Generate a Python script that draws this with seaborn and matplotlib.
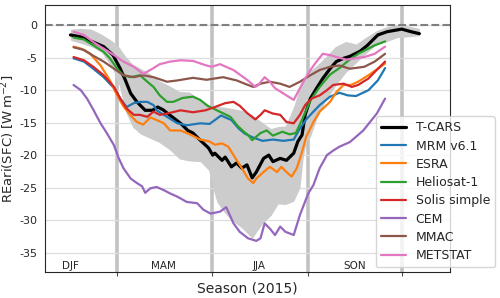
import numpy as np
import pandas as pd
import matplotlib
matplotlib.use('Agg')
import matplotlib.pyplot as plt
import seaborn as sns

# day of year 2015, REari(SFC) in W m-2 (30-day running means)
tcars_doy = [15, 25, 37, 47, 56, 63, 68, 73, 79, 87, 94, 99, 104, 108, 121, 128, 133, 138, 148, 152,
             154, 161, 164, 170, 175, 180, 185, 190, 194, 201, 206, 210, 217, 223, 230, 234, 238, 241,
             246, 252, 258, 265, 271, 278, 284, 294, 301, 311, 320, 334, 343, 351]
tcars = [-1.5, -1.8, -2.6, -3.3, -4.6, -6.7, -8.5, -10.5, -11.8, -13.1, -13.1, -12.6, -13.0, -13.5,
         -15.1, -16.2, -16.6, -17.4, -18.9, -20.0, -19.7, -20.8, -20.3, -21.8, -21.2, -22.0, -21.5,
         -23.5, -22.6, -20.5, -20.0, -21.0, -20.5, -20.8, -19.7, -17.9, -16.9, -13.8, -11.3, -9.7,
         -8.2, -6.7, -5.6, -5.1, -4.8, -4.0, -3.1, -1.5, -1.0, -0.6, -1.0, -1.3]

band_doy = [15, 25, 35, 45, 55, 62, 68, 75, 82, 90, 100, 110, 120, 130, 140, 148, 152, 156, 163, 170,
            180, 190, 200, 208, 215, 222, 230, 236, 239, 242, 246, 252, 260, 270, 280, 290, 300, 310,
            320, 330, 340, 351]
band_hi = [-0.6, -0.5, -0.6, -1.4, -2.4, -3.4, -4.8, -6.0, -6.6, -7.3, -8.5, -9.3, -10.2, -10.3, -11.6,
           -12.2, -12.3, -12.5, -12.6, -12.8, -13.1, -13.8, -15.0, -15.9, -15.6, -15.5, -12.5, -9.5,
           -8.6, -8.0, -7.0, -6.2, -5.0, -3.3, -2.5, -2.9, -1.8, -0.8, -0.2, 0.1, -0.1, -0.5]
band_lo = [-2.3, -2.8, -3.3, -4.2, -6.5, -9.3, -13.3, -15.7, -16.7, -17.3, -18.0, -19.1, -20.6, -20.9,
           -21.0, -22.3, -25.0, -27.2, -28.8, -30.0, -31.2, -32.8, -30.5, -29.3, -27.5, -27.6, -27.1,
           -25.0, -20.5, -18.0, -17.2, -14.5, -11.8, -9.4, -7.3, -5.8, -4.3, -2.9, -2.5, -1.9, -1.8, -1.6]

mrm_doy = [18, 28, 37, 47, 57, 63, 69, 76, 82, 89, 95, 98, 108, 118, 127, 140, 149, 160, 170, 177,
           183, 191, 200, 210, 220, 230, 236, 242, 249, 255, 265, 274, 282, 290, 302, 311, 318]
mrm = [-5.1, -5.6, -6.7, -8.0, -9.7, -11.3, -12.6, -12.0, -11.8, -11.8, -12.3, -13.1, -14.1, -15.1,
       -15.4, -15.1, -15.2, -13.9, -14.6, -15.9, -16.7, -17.3, -17.8, -17.6, -17.8, -17.6, -15.9,
       -14.5, -13.3, -12.3, -11.0, -10.4, -10.8, -10.9, -10.0, -8.5, -6.6]

esra_doy = [18, 25, 34, 44, 53, 60, 66, 73, 79, 85, 92, 98, 105, 111, 121, 130, 140, 149, 154, 161,
            167, 174, 180, 186, 191, 194, 201, 207, 214, 218, 223, 228, 233, 238, 242, 249, 255, 265,
            271, 278, 285, 292, 302, 311, 318]
esra = [-3.3, -3.6, -4.4, -6.2, -8.5, -10.8, -12.5, -13.9, -14.9, -15.3, -14.2, -14.6, -15.1, -16.2,
        -16.2, -16.8, -17.6, -17.9, -18.4, -18.2, -18.7, -20.5, -22.0, -23.6, -24.3, -23.6, -22.6,
        -21.8, -22.6, -21.8, -22.6, -23.3, -22.0, -19.5, -17.2, -14.9, -13.3, -11.8, -10.3, -9.2,
        -9.2, -8.7, -7.7, -6.7, -5.9]

helio_doy = [18, 28, 37, 47, 53, 60, 66, 73, 82, 89, 95, 101, 108, 114, 123, 133, 140, 147, 156, 169,
             176, 182, 186, 190, 198, 204, 210, 219, 226, 232, 239, 246, 255, 265, 274, 283, 293, 302,
             308, 318]
helio = [-1.9, -2.2, -3.1, -4.1, -5.1, -6.7, -7.7, -8.0, -7.7, -8.7, -9.5, -10.8, -11.8, -11.8, -11.2,
         -11.0, -11.5, -12.4, -13.1, -14.1, -15.5, -16.4, -16.9, -17.7, -16.6, -16.2, -17.0, -16.4,
         -16.8, -16.6, -14.2, -11.6, -9.5, -7.6, -6.6, -5.4, -4.3, -3.6, -3.1, -2.5]

solis_doy = [18, 28, 37, 47, 57, 63, 69, 76, 82, 89, 95, 101, 108, 121, 133, 145, 154, 164, 172, 178,
             185, 193, 198, 202, 210, 217, 223, 230, 236, 241, 247, 255, 262, 268, 278, 286, 292, 302,
             308, 318]
solis = [-4.9, -5.4, -6.4, -7.7, -9.5, -11.3, -12.8, -13.8, -13.8, -14.1, -13.3, -13.8, -13.6, -13.1,
         -13.4, -13.1, -12.6, -12.0, -11.8, -12.4, -13.5, -14.5, -13.8, -13.1, -13.6, -13.8, -14.9,
         -15.1, -13.8, -12.3, -11.3, -10.8, -10.0, -9.2, -9.0, -9.5, -9.2, -8.2, -7.2, -5.6]

cem_doy = [18, 25, 31, 37, 44, 50, 57, 61, 66, 73, 79, 84, 87, 92, 98, 105, 111, 118, 127, 137, 143,
           150, 159, 165, 172, 178, 186, 194, 198, 202, 207, 212, 217, 222, 230, 236, 244, 249, 255,
           262, 268, 274, 284, 297, 310, 318]
cem = [-9.2, -10.0, -11.3, -13.0, -15.1, -16.6, -18.5, -20.3, -22.0, -23.6, -24.3, -24.8, -25.8, -25.1,
       -24.9, -25.4, -25.9, -26.4, -27.2, -27.4, -28.4, -29.0, -28.7, -28.0, -30.5, -31.8, -32.8,
       -33.2, -32.8, -30.5, -31.3, -32.3, -31.0, -31.8, -32.3, -29.2, -25.9, -24.6, -22.0, -20.0,
       -19.3, -18.7, -18.0, -16.2, -13.6, -11.3]

mmac_doy = [18, 28, 37, 47, 57, 66, 76, 85, 95, 108, 118, 133, 146, 162, 175, 186, 191, 198, 207, 217,
            226, 236, 246, 255, 265, 274, 284, 298, 308, 318]
mmac = [-3.4, -3.8, -4.7, -5.6, -6.7, -7.7, -8.0, -7.7, -8.0, -8.7, -8.5, -8.1, -8.4, -8.0, -8.5,
        -9.2, -9.5, -9.0, -8.7, -9.0, -9.5, -8.7, -7.7, -6.9, -6.4, -6.2, -6.7, -6.4, -5.6, -4.4]

metstat_doy = [18, 28, 37, 47, 57, 66, 76, 85, 94, 101, 111, 121, 133, 146, 151, 159, 172, 185, 193,
               196, 202, 207, 212, 218, 223, 230, 234, 241, 247, 252, 258, 265, 271, 281, 289, 298,
               308, 318]
metstat = [-1.0, -1.5, -2.6, -3.6, -4.6, -5.6, -6.4, -7.5, -6.7, -6.0, -5.6, -5.4, -5.5, -6.2, -6.4,
           -6.0, -6.9, -8.4, -9.5, -9.2, -8.0, -8.7, -9.7, -10.3, -10.8, -11.5, -10.3, -8.2, -6.7,
           -5.6, -4.4, -4.6, -4.9, -5.3, -5.1, -4.9, -4.4, -3.3]

season_names = ['DJF', 'MAM', 'JJA', 'SON']
season_mid = [15, 105, 197, 289]
season_bounds = [59.5, 151.5, 243.5, 334.5]

sns.set_style('whitegrid', {'axes.edgecolor': '0.15', 'grid.color': '0.87'})
plt.rcParams['font.family'] = ['DejaVu Sans']
plt.rcParams['axes.unicode_minus'] = False

fig = plt.figure(figsize=(5, 2.98), dpi=100)
ax = fig.add_axes([0.09, 0.087, 0.81, 0.896])

ax.fill_between(band_doy, band_lo, band_hi, color='0.8', lw=0, zorder=1)
ax.axhline(0, color='0.5', ls='--', lw=1.5, zorder=1.5)

series = [
    ('T-CARS', tcars_doy, tcars, 'black', 2.3),
    ('MRM v6.1', mrm_doy, mrm, '#1f77b4', 1.6),
    ('ESRA', esra_doy, esra, '#ff7f0e', 1.6),
    ('Heliosat-1', helio_doy, helio, '#2ca02c', 1.6),
    ('Solis simple', solis_doy, solis, '#d62728', 1.6),
    ('CEM', cem_doy, cem, '#9467bd', 1.6),
    ('MMAC', mmac_doy, mmac, '#8c564b', 1.6),
    ('METSTAT', metstat_doy, metstat, '#e377c2', 1.6),
]
for name, xd, yd, col, lw in series:
    sns.lineplot(x=xd, y=yd, ax=ax, color=col, lw=lw, label=name,
                 estimator=None, sort=False, zorder=2)

ax.set_xlim(-9.5, 380.5)
ax.set_ylim(-38, 3.1)
ax.set_yticks(np.arange(0, -40, -5))
ax.set_xticks(season_bounds)
ax.set_xticklabels([])
ax.grid(axis='x', color='0.76', lw=2.6)
ax.grid(axis='y', color='0.87', lw=0.9)
ax.tick_params(axis='x', bottom=True, length=3, color='0.3')
ax.tick_params(axis='y', labelsize=8, pad=2)

for name, pos in zip(season_names, season_mid):
    ax.text(pos, 0.01, name, transform=ax.get_xaxis_transform(),
            ha='center', va='baseline', fontsize=7.5)

ax.set_xlabel('Season (2015)', fontsize=10, labelpad=0)
ax.set_ylabel(r'REari(SFC) [$\mathrm{W\,m^{-2}}$]', fontsize=9.5)
ax.yaxis.set_label_coords(-0.068, 0.5)

ax.legend(loc='lower right', bbox_to_anchor=(1.111, 0.019), borderaxespad=0,
          fontsize=9, labelspacing=0.42, handlelength=2.0, frameon=True)

fig.savefig('out.png', dpi=100)
